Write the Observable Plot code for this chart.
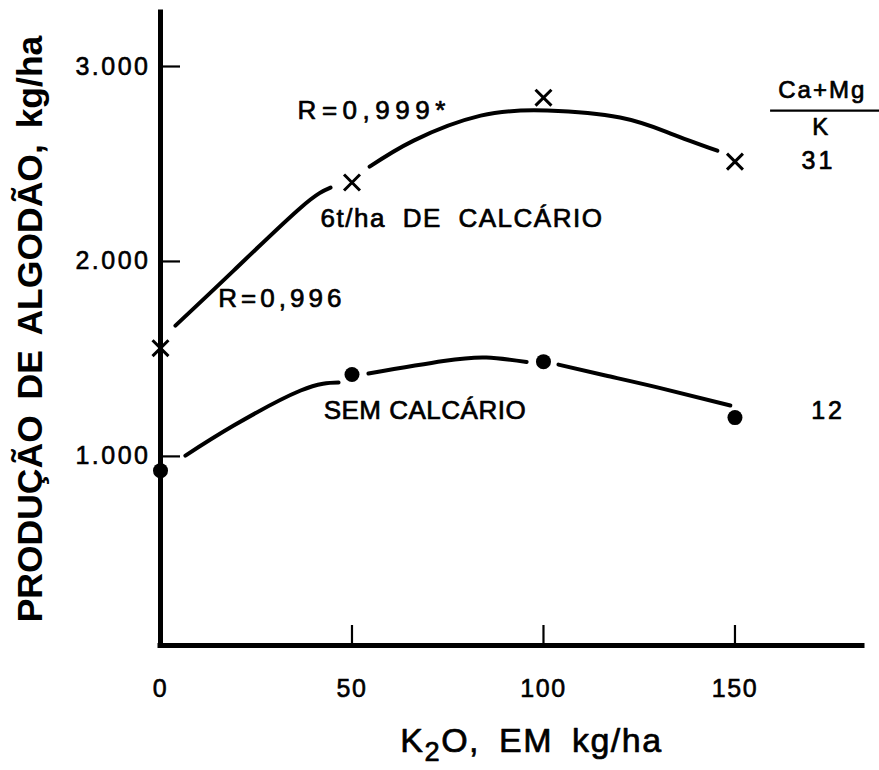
<!DOCTYPE html>
<html>
<head>
<meta charset="utf-8">
<script src="https://cdn.jsdelivr.net/npm/d3@7"></script>
<script src="https://cdn.jsdelivr.net/npm/@observablehq/plot@0.6"></script>
<style>
  html, body { margin: 0; padding: 0; background: #fff; }
  #chart { width: 879px; height: 770px; }
</style>
</head>
<body>
<div id="chart"></div>
<script>
// ---- scales / ticks ----
const xDomain = [0, 183.3];
const yDomain = [30, 3277];
const xTicks = [0, 50, 100, 150];
const xTickMarks = [50, 100, 150];
const yTicks = [1000, 2000, 3000];
const yTickLabels = ["1.000", "2.000", "3.000"];

// ---- observed points ----
const k2o = [0, 50, 100, 150];
const limedYield = [1555, 2405, 2840, 2512];    // 6 t/ha de calcário (X)
const unlimedYield = [927, 1420, 1486, 1199];   // sem calcário (●)

// ---- fitted curves (broken around the markers) ----
const limedCurveX   = [3.9, 19.1, 36.6, 44.4, 54.6, 66.1, 83.6, 101, 120, 133.2, 145.4];
const limedCurveY   = [1671, 1953, 2276, 2379, 2486, 2620, 2748, 2774, 2738, 2656, 2568];
const limedCurveSeg = [1, 1, 1, 1, 2, 2, 2, 2, 2, 2, 2];

const unlimedCurveX   = [6.5, 19.1, 36.6, 46.5, 54.3, 73.9, 85.1, 95.6, 103.9, 116.2, 130, 148.8];
const unlimedCurveY   = [1004, 1158, 1338, 1379, 1425, 1489, 1507, 1484, 1471, 1415, 1353, 1261];
const unlimedCurveSeg = [1, 1, 1, 1, 2, 2, 2, 2, 3, 3, 3, 3];

// ---- texts ----
const yLabelText = "PRODUÇÃO DE ALGODÃO, kg/ha";
const xLabelText = "K2O, EM kg/ha";
const annotTexts = ["R=0,999*", "6t/ha DE CALCÁRIO", "R=0,996", "SEM CALCÁRIO"];
const annotX = [35.8, 41.8, 15.1, 42.6];
const annotY = [2774, 2220, 1809, 1235];
const ratioHeader = ["Ca+Mg", "K"];
const ratioHeaderX = [172.8, 172.3];
const ratioHeaderY = [2876, 2686];
const ratioValues = ["31", "12"];
const ratioValueX = [171.8, 174.3];
const ratioValueY = [2517, 1235];
const ratioRuleY = 2774;

// ---- tables built from the arrays ----
const limed = k2o.map((x, i) => ({x, y: limedYield[i]}));
const unlimed = k2o.map((x, i) => ({x, y: unlimedYield[i]}));
const limedCurve = limedCurveX.map((x, i) => ({x, y: limedCurveY[i], seg: limedCurveSeg[i]}));
const unlimedCurve = unlimedCurveX.map((x, i) => ({x, y: unlimedCurveY[i], seg: unlimedCurveSeg[i]}));
const annots = annotTexts.map((t, i) => ({t, x: annotX[i], y: annotY[i]}));
const ratioHead = ratioHeader.map((t, i) => ({t, x: ratioHeaderX[i], y: ratioHeaderY[i]}));
const ratioVals = ratioValues.map((t, i) => ({t, x: ratioValueX[i], y: ratioValueY[i]}));

const FONT = "'Liberation Sans', 'DejaVu Sans', Arial, sans-serif";
const INK = "#000";

const chart = Plot.plot({
  width: 879,
  height: 770,
  marginTop: 12,
  marginBottom: 125,
  marginLeft: 160,
  marginRight: 17,
  style: {fontFamily: FONT, fontSize: "25px", color: INK, background: "#fff", overflow: "visible"},
  x: {domain: xDomain, ticks: xTicks, tickSize: 0, tickPadding: 34, label: null, tickFormat: d => String(d)},
  y: {domain: yDomain, ticks: yTicks, tickSize: 0, tickPadding: 10, label: null,
      tickFormat: d => yTickLabels[yTicks.indexOf(d)]},
  marks: [
    // inward ticks
    Plot.tickY(yTicks, {y: d => d, insetRight: 682, stroke: INK, strokeWidth: 2.2}),
    Plot.tickX(xTickMarks, {x: d => d, insetTop: 613, stroke: INK, strokeWidth: 2.2}),
    // heavy axis lines
    Plot.ruleX([xDomain[0]], {stroke: INK, strokeWidth: 5, strokeLinecap: "square"}),
    Plot.ruleY([yDomain[0]], {stroke: INK, strokeWidth: 5, strokeLinecap: "square"}),
    // fitted curves
    Plot.line(limedCurve, {x: "x", y: "y", z: "seg", curve: "natural", stroke: INK, strokeWidth: 4, strokeLinecap: "round"}),
    Plot.line(unlimedCurve, {x: "x", y: "y", z: "seg", curve: "natural", stroke: INK, strokeWidth: 4, strokeLinecap: "round"}),
    // observed points
    Plot.dot(limed, {x: "x", y: "y", symbol: "times", r: 7.3, stroke: INK, strokeWidth: 3}),
    Plot.dot(unlimed, {x: "x", y: "y", symbol: "circle", r: 7.5, fill: INK, stroke: "none"}),
    // annotations
    Plot.text(annots, {x: "x", y: "y", text: "t", textAnchor: "start", fontSize: 26, fill: INK, stroke: INK, strokeWidth: 0.7}),
    Plot.text(ratioHead, {x: "x", y: "y", text: "t", textAnchor: "middle", fontSize: 24, fill: INK, stroke: INK, strokeWidth: 0.7}),
    Plot.ruleY([ratioRuleY], {x1: 159.3, x2: 190, stroke: INK, strokeWidth: 2.2, clip: false}),
    Plot.text(ratioVals, {x: "x", y: "y", text: "t", textAnchor: "middle", fontSize: 25, fill: INK, stroke: INK, strokeWidth: 0.7}),
    // axis titles
    Plot.text([yLabelText], {frameAnchor: "left", textAnchor: "middle", lineAnchor: "middle", dx: -130, rotate: -90,
      fontSize: 35.5, fontWeight: "bold", fill: INK}),
    Plot.text([xLabelText], {frameAnchor: "bottom", textAnchor: "middle", lineAnchor: "middle", dx: 20, dy: 96,
      fontSize: 34, fill: INK, stroke: INK, strokeWidth: 0.7})
  ]
});

document.getElementById("chart").appendChild(chart);

// heavier, spaced lettering like the lettering-guide original
d3.select(chart).selectAll('[aria-label="y-axis tick label"] text')
  .style("letter-spacing", "2.5px").style("stroke", INK).style("stroke-width", "0.6px");
d3.select(chart).selectAll('[aria-label="x-axis tick label"] text')
  .style("letter-spacing", "1.5px").style("stroke", INK).style("stroke-width", "0.6px");
d3.select(chart).selectAll("text").each(function () {
  const t = this.textContent;
  if (t === "R=0,999*") this.style.letterSpacing = "5.5px";
  if (t === "R=0,996") this.style.letterSpacing = "4px";
  if (t === "6t/ha DE CALCÁRIO") { this.style.letterSpacing = "1.5px"; this.style.wordSpacing = "8px"; }
  if (t === "SEM CALCÁRIO") this.style.letterSpacing = "0.5px";
  if (t === "Ca+Mg") this.style.letterSpacing = "2px";
  if (t === "31" || t === "12") this.style.letterSpacing = "3px";
  if (t === yLabelText) { this.style.letterSpacing = "0px"; this.style.wordSpacing = "6px"; }
  if (t === xLabelText) {
    // K₂O with a real lowered subscript
    this.textContent = "";
    const s = d3.select(this);
    s.append("tspan").text(xLabelText.slice(0, 1));
    s.append("tspan").attr("dy", "0.3em").attr("font-size", "0.8em").text(xLabelText.slice(1, 2));
    s.append("tspan").attr("dy", "-0.24em").text(xLabelText.slice(2));
    this.style.letterSpacing = "1.5px";
    this.style.wordSpacing = "8px";
  }
});
</script>
</body>
</html>
